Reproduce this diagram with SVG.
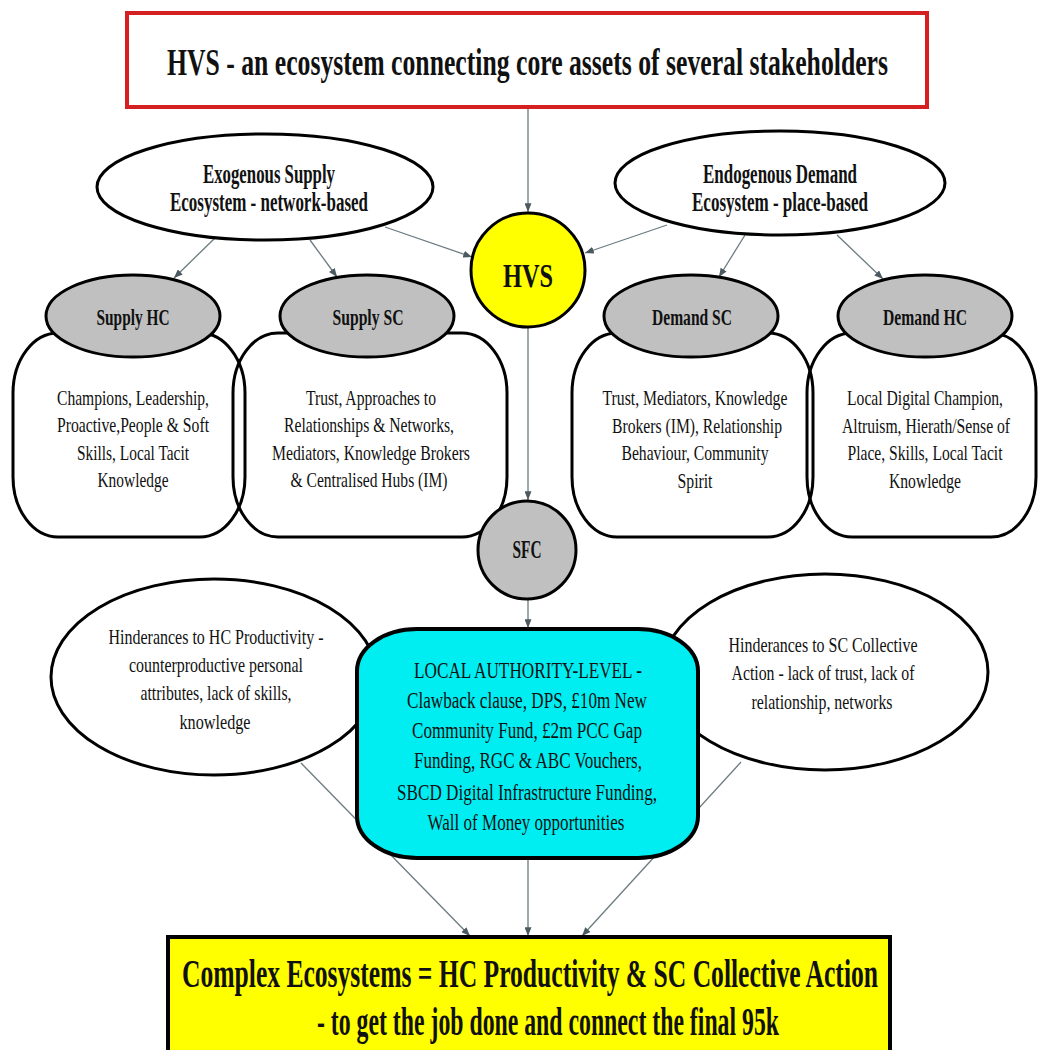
<svg xmlns="http://www.w3.org/2000/svg" width="1038" height="1050" viewBox="0 0 1038 1050">
  <defs>
    <marker id="arrow" viewBox="0 0 10 8" refX="10" refY="4" markerWidth="9" markerHeight="7" markerUnits="userSpaceOnUse" orient="auto">
      <path d="M0,0 L10,4 L0,8 Z" fill="#4a5a60"/>
    </marker>
    <style>
      .lbl { font-family: "Liberation Serif", "Times New Roman", serif; fill: #111; text-anchor: middle; }
      .b { font-weight: bold; }
      .edge { stroke: #6b7b80; stroke-width: 1.3; fill: none; marker-end: url(#arrow); }
      .oval { fill: #fff; stroke: #000; stroke-width: 3; }
      .grey { fill: #c0c0c0; stroke: #000; stroke-width: 3; }
      .bubble { fill: none; stroke: #000; stroke-width: 3; }
    </style>
  </defs>
  <rect width="1038" height="1050" fill="#fff"/>

  <!-- connectors -->
  <g id="connectors">
    <line class="edge" x1="528" y1="108" x2="528" y2="212"/>
    <line class="edge" x1="385" y1="227" x2="472" y2="257"/>
    <line class="edge" x1="667" y1="225" x2="585" y2="253"/>
    <line class="edge" x1="215" y1="238" x2="174" y2="278"/>
    <line class="edge" x1="310" y1="240" x2="337" y2="277"/>
    <line class="edge" x1="745" y1="235" x2="719" y2="277"/>
    <line class="edge" x1="837" y1="235" x2="883" y2="279"/>
    <line class="edge" x1="528" y1="327" x2="528" y2="500"/>
    <line class="edge" x1="528" y1="599" x2="528" y2="628"/>
    <line class="edge" x1="301" y1="763" x2="470" y2="936"/>
    <line class="edge" x1="528" y1="858" x2="528" y2="936"/>
    <line class="edge" x1="741" y1="762" x2="582" y2="936"/>
  </g>

  <!-- heading -->
  <g id="title">
    <rect x="127" y="13" width="800" height="94" fill="#fff" stroke="#d42020" stroke-width="4"/>
    <text class="lbl b" x="527.5" y="75" font-size="37" textLength="721" lengthAdjust="spacingAndGlyphs">HVS - an ecosystem connecting core assets of several stakeholders</text>
  </g>

  <g id="exogenous">
    <ellipse class="oval" cx="265" cy="187" rx="168" ry="53"/>
    <text class="lbl b" x="269" y="183" font-size="28" textLength="132" lengthAdjust="spacingAndGlyphs">Exogenous Supply</text>
    <text class="lbl b" x="269" y="211" font-size="28" textLength="198" lengthAdjust="spacingAndGlyphs">Ecosystem - network-based</text>
  </g>

  <g id="endogenous">
    <ellipse class="oval" cx="780" cy="183" rx="165" ry="52"/>
    <text class="lbl b" x="780" y="183" font-size="28" textLength="154" lengthAdjust="spacingAndGlyphs">Endogenous Demand</text>
    <text class="lbl b" x="780" y="211" font-size="28" textLength="176" lengthAdjust="spacingAndGlyphs">Ecosystem - place-based</text>
  </g>

  <g id="hvs">
    <circle cx="528" cy="270" r="57" fill="#ffff00" stroke="#000" stroke-width="3"/>
    <text class="lbl b" x="528" y="287" font-size="34" textLength="50" lengthAdjust="spacingAndGlyphs">HVS</text>
  </g>

  <!-- supply side -->
  <g id="supply-hc">
    <rect class="bubble" x="13" y="333" width="232" height="204" rx="45" ry="60"/>
    <ellipse class="grey" cx="133" cy="316" rx="87" ry="41"/>
    <text class="lbl b" x="133" y="325" font-size="23" textLength="73" lengthAdjust="spacingAndGlyphs">Supply HC</text>
    <text class="lbl" x="133" y="405" font-size="22" textLength="152" lengthAdjust="spacingAndGlyphs">Champions, Leadership,</text>
    <text class="lbl" x="133" y="432" font-size="22" textLength="152" lengthAdjust="spacingAndGlyphs">Proactive,People &amp; Soft</text>
    <text class="lbl" x="133" y="460" font-size="22" textLength="112" lengthAdjust="spacingAndGlyphs">Skills, Local Tacit</text>
    <text class="lbl" x="133" y="487" font-size="22" textLength="71" lengthAdjust="spacingAndGlyphs">Knowledge</text>
  </g>

  <g id="supply-sc">
    <rect class="bubble" x="233" y="333" width="274" height="204" rx="45" ry="60"/>
    <ellipse class="grey" cx="367" cy="316" rx="87" ry="41"/>
    <text class="lbl b" x="368" y="325" font-size="23" textLength="71" lengthAdjust="spacingAndGlyphs">Supply SC</text>
    <text class="lbl" x="371" y="405" font-size="22" textLength="130" lengthAdjust="spacingAndGlyphs">Trust, Approaches to</text>
    <text class="lbl" x="369" y="432" font-size="22" textLength="170" lengthAdjust="spacingAndGlyphs">Relationships &amp; Networks,</text>
    <text class="lbl" x="371" y="460" font-size="22" textLength="198" lengthAdjust="spacingAndGlyphs">Mediators, Knowledge Brokers</text>
    <text class="lbl" x="369" y="487" font-size="22" textLength="157" lengthAdjust="spacingAndGlyphs">&amp; Centralised Hubs (IM)</text>
  </g>

  <!-- demand side -->
  <g id="demand-sc">
    <rect class="bubble" x="572" y="333" width="241" height="204" rx="45" ry="60"/>
    <ellipse class="grey" cx="691" cy="316" rx="87" ry="41"/>
    <text class="lbl b" x="692" y="325" font-size="23" textLength="80" lengthAdjust="spacingAndGlyphs">Demand SC</text>
    <text class="lbl" x="695" y="405" font-size="22" textLength="185" lengthAdjust="spacingAndGlyphs">Trust, Mediators, Knowledge</text>
    <text class="lbl" x="697" y="433" font-size="22" textLength="170" lengthAdjust="spacingAndGlyphs">Brokers (IM), Relationship</text>
    <text class="lbl" x="695" y="460" font-size="22" textLength="147" lengthAdjust="spacingAndGlyphs">Behaviour, Community</text>
    <text class="lbl" x="695" y="488" font-size="22" textLength="35" lengthAdjust="spacingAndGlyphs">Spirit</text>
  </g>

  <g id="demand-hc">
    <rect class="bubble" x="807" y="333" width="229" height="204" rx="45" ry="60"/>
    <ellipse class="grey" cx="925" cy="316" rx="87" ry="41"/>
    <text class="lbl b" x="925" y="325" font-size="23" textLength="84" lengthAdjust="spacingAndGlyphs">Demand HC</text>
    <text class="lbl" x="925" y="405" font-size="22" textLength="156" lengthAdjust="spacingAndGlyphs">Local Digital Champion,</text>
    <text class="lbl" x="926" y="433" font-size="22" textLength="168" lengthAdjust="spacingAndGlyphs">Altruism, Hierath/Sense of</text>
    <text class="lbl" x="925" y="460" font-size="22" textLength="155" lengthAdjust="spacingAndGlyphs">Place, Skills, Local Tacit</text>
    <text class="lbl" x="925" y="488" font-size="22" textLength="72" lengthAdjust="spacingAndGlyphs">Knowledge</text>
  </g>

  <g id="sfc">
    <circle cx="527" cy="550" r="49" fill="#c0c0c0" stroke="#000" stroke-width="3"/>
    <text class="lbl b" x="527" y="558" font-size="25" textLength="29" lengthAdjust="spacingAndGlyphs">SFC</text>
  </g>

  <!-- hindrances -->
  <g id="hindrance-hc">
    <ellipse class="oval" cx="214" cy="677" rx="163" ry="98"/>
    <text class="lbl" x="216" y="644" font-size="22" textLength="215" lengthAdjust="spacingAndGlyphs">Hinderances to HC Productivity -</text>
    <text class="lbl" x="216" y="672" font-size="22" textLength="174" lengthAdjust="spacingAndGlyphs">counterproductive personal</text>
    <text class="lbl" x="216" y="700" font-size="22" textLength="151" lengthAdjust="spacingAndGlyphs">attributes, lack of skills,</text>
    <text class="lbl" x="215" y="729" font-size="22" textLength="71" lengthAdjust="spacingAndGlyphs">knowledge</text>
  </g>

  <g id="hindrance-sc">
    <ellipse class="oval" cx="825" cy="672" rx="163" ry="98"/>
    <text class="lbl" x="823" y="652" font-size="22" textLength="189" lengthAdjust="spacingAndGlyphs">Hinderances to SC Collective</text>
    <text class="lbl" x="823" y="680" font-size="22" textLength="183" lengthAdjust="spacingAndGlyphs">Action - lack of trust, lack of</text>
    <text class="lbl" x="822" y="709" font-size="22" textLength="141" lengthAdjust="spacingAndGlyphs">relationship, networks</text>
  </g>

  <g id="local-authority">
    <rect x="357" y="629" width="341" height="229" rx="60" ry="42" fill="#00eef2" stroke="#000" stroke-width="4"/>
    <text class="lbl" x="528" y="678" font-size="23" textLength="228" lengthAdjust="spacingAndGlyphs">LOCAL AUTHORITY-LEVEL -</text>
    <text class="lbl" x="527" y="708" font-size="23" textLength="240" lengthAdjust="spacingAndGlyphs">Clawback clause, DPS, £10m New</text>
    <text class="lbl" x="527" y="738" font-size="23" textLength="230" lengthAdjust="spacingAndGlyphs">Community Fund, £2m PCC Gap</text>
    <text class="lbl" x="528" y="768" font-size="23" textLength="228" lengthAdjust="spacingAndGlyphs">Funding, RGC &amp; ABC Vouchers,</text>
    <text class="lbl" x="527" y="800" font-size="23" textLength="260" lengthAdjust="spacingAndGlyphs">SBCD Digital Infrastructure Funding,</text>
    <text class="lbl" x="526" y="830" font-size="23" textLength="197" lengthAdjust="spacingAndGlyphs">Wall of Money opportunities</text>
  </g>

  <g id="outcome">
    <rect x="168" y="937" width="722" height="120" fill="#ffff00" stroke="#000" stroke-width="4"/>
    <text class="lbl b" x="530" y="987" font-size="40" textLength="696" lengthAdjust="spacingAndGlyphs">Complex Ecosystems = HC Productivity &amp; SC Collective Action</text>
    <text class="lbl b" x="548" y="1035" font-size="40" textLength="462" lengthAdjust="spacingAndGlyphs">- to get the job done and connect the final 95k</text>
  </g>
</svg>
